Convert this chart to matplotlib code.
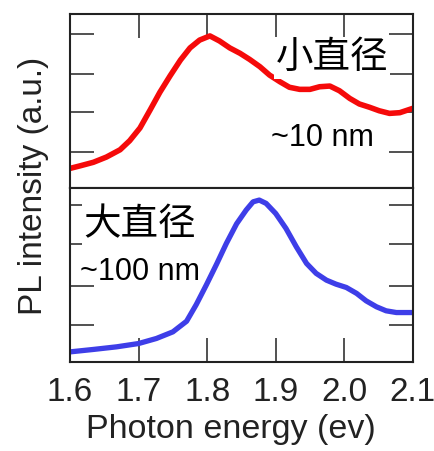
import matplotlib
matplotlib.use("Agg")
import matplotlib.pyplot as plt

plt.rcParams['font.family'] = ['Liberation Sans', 'Noto Sans CJK SC', 'DejaVu Sans']

# Photon energy (eV) and normalized PL intensity
red_energy = [1.600, 1.615, 1.634, 1.653, 1.673, 1.687, 1.702, 1.717, 1.731, 1.746,
              1.761, 1.775, 1.789, 1.804, 1.818, 1.833, 1.848, 1.862, 1.877, 1.891,
              1.906, 1.920, 1.935, 1.950, 1.964, 1.979, 1.993, 2.008, 2.022, 2.037,
              2.051, 2.066, 2.081, 2.100]
red_intensity = [0.113, 0.128, 0.148, 0.178, 0.220, 0.272, 0.345, 0.450, 0.550, 0.645,
                 0.735, 0.805, 0.850, 0.874, 0.845, 0.805, 0.774, 0.739, 0.697, 0.649,
                 0.611, 0.579, 0.567, 0.567, 0.582, 0.586, 0.559, 0.515, 0.483, 0.464,
                 0.444, 0.429, 0.433, 0.458]

blue_energy = [1.600, 1.634, 1.668, 1.700, 1.726, 1.750, 1.770, 1.784, 1.799, 1.814,
               1.828, 1.843, 1.857, 1.867, 1.876, 1.886, 1.900, 1.915, 1.930, 1.945,
               1.959, 1.974, 1.988, 2.003, 2.018, 2.032, 2.047, 2.061, 2.076, 2.100]
blue_intensity = [0.059, 0.073, 0.088, 0.107, 0.136, 0.174, 0.235, 0.330, 0.445, 0.565,
                  0.682, 0.795, 0.874, 0.921, 0.931, 0.912, 0.854, 0.768, 0.663, 0.567,
                  0.510, 0.471, 0.448, 0.429, 0.395, 0.352, 0.318, 0.295, 0.285, 0.285]

x_ticks = [1.6, 1.7, 1.8, 1.9, 2.0, 2.1]
x_tick_labels = ["1.6", "1.7", "1.8", "1.9", "2.0", "2.1"]
top_yticks = [0.207, 0.437, 0.655, 0.885]
bottom_yticks = [0.213, 0.437, 0.678, 0.902]

fig = plt.figure(figsize=(4.35, 4.51), dpi=100)
ax_top = fig.add_axes([0.161, 0.583, 0.788, 0.386])
ax_bot = fig.add_axes([0.161, 0.197, 0.788, 0.386])

ax_top.plot(red_energy, red_intensity, color='#f50a0a', lw=4.0,
            solid_capstyle='butt', solid_joinstyle='round')
ax_bot.plot(blue_energy, blue_intensity, color='#3e3ee8', lw=3.8,
            solid_capstyle='butt', solid_joinstyle='round')

for ax, yt in [(ax_top, top_yticks), (ax_bot, bottom_yticks)]:
    ax.set_xlim(1.6, 2.1)
    ax.set_ylim(0, 1)
    ax.set_yticks(yt)
    ax.set_yticklabels([])
    ax.set_xticks(x_ticks[1:-1])
    for s in ax.spines.values():
        s.set_linewidth(1.5)
        s.set_color('#222222')
    ax.tick_params(axis='y', direction='in', length=17, width=1.2, color='#333333',
                   left=True, right=True)
    ax.tick_params(axis='x', direction='in', length=17, width=1.2, color='#333333')

ax_top.tick_params(axis='x', top=True, bottom=False, labelbottom=False)
ax_bot.set_xticks(x_ticks)
ax_bot.set_xticklabels(x_tick_labels)
ax_bot.tick_params(axis='x', top=False, bottom=True, labelsize=24, pad=11,
                   labelcolor='#222222')
ax_bot.set_xlabel("Photon energy (ev)", fontsize=24.5, color='#222222')
ax_bot.xaxis.set_label_coords(0.468, -0.30)

fig.text(0.076, 0.588, "PL intensity (a.u.)", rotation=90, fontsize=24,
         ha='center', va='center', color='#222222')

ax_top.text(0.60, 0.75, "小直径", transform=ax_top.transAxes, fontsize=27,
            family=['Noto Sans CJK SC'], ha='left', va='center',
            bbox=dict(facecolor='white', edgecolor='none', pad=1))
ax_top.text(0.585, 0.29, "~10 nm", transform=ax_top.transAxes, fontsize=22,
            ha='left', va='center',
            bbox=dict(facecolor='white', edgecolor='none', pad=1))
ax_bot.text(0.04, 0.79, "大直径", transform=ax_bot.transAxes, fontsize=27,
            family=['Noto Sans CJK SC'], ha='left', va='center',
            bbox=dict(facecolor='white', edgecolor='none', pad=1))
ax_bot.text(0.03, 0.52, "~100 nm", transform=ax_bot.transAxes, fontsize=22,
            ha='left', va='center')

fig.savefig("out.png", dpi=100)
